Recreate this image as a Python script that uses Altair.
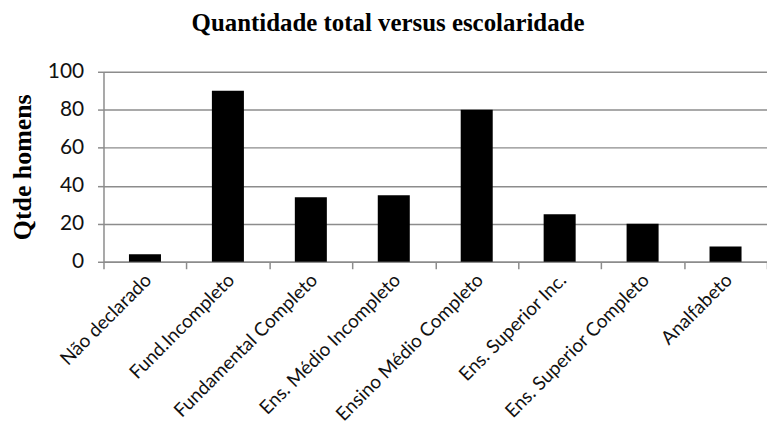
import altair as alt
import pandas as pd

title_text = ["Quantidade total versus escolaridade"]
categories = ["Não declarado", "Fund.Incompleto", "Fundamental Completo",
              "Ens. Médio Incompleto", "Ensino Médio Completo",
              "Ens. Superior Inc.", "Ens. Superior Completo", "Analfabeto"]
values = [4, 90, 34, 35, 80, 25, 20, 8]
y_ticks = [0, 20, 40, 60, 80, 100]

df = pd.DataFrame({"cat": categories, "val": values})
tdf = pd.DataFrame({"t": title_text})

GRAY = "#8c8c8c"

bars = alt.Chart(df).mark_bar(color="black", width=alt.RelativeBandSize(0.386)).encode(
    x=alt.X("cat:N", sort=categories, title=None,
            scale=alt.Scale(paddingInner=0, paddingOuter=0),
            axis=alt.Axis(labelAngle=-45, labelAlign="right", labelBaseline="middle",
                          labelFont="Lato", labelFontSize=19, labelLimit=0,
                          labelColor="#111", tickBand="extent", tickSize=7,
                          tickColor=GRAY, tickWidth=1.5, domainColor=GRAY,
                          domainWidth=1.5, grid=False, labelPadding=8,
                          labelOffset=3)),
    y=alt.Y("val:Q", title="Qtde homens", scale=alt.Scale(domain=[0, 100]),
            axis=alt.Axis(values=y_ticks, labelFont="Lato", labelFontSize=21,
                          labelColor="#111", labelPadding=14, tickSize=6,
                          tickColor=GRAY, tickWidth=1.5, domainColor=GRAY,
                          domainWidth=1.5, gridColor=GRAY, gridWidth=1.5,
                          titleFont="Liberation Serif", titleFontSize=26,
                          titleFontWeight="bold", titleColor="#000",
                          titlePadding=12)),
)

title = alt.Chart(tdf).mark_text(
    font="Liberation Serif", fontSize=25, fontWeight="bold", color="#000",
    align="center", baseline="alphabetic"
).encode(x=alt.value(286), y=alt.value(-41), text="t:N")

chart = alt.layer(bars, title).properties(
    width=667, height=191,
    autosize=alt.AutoSizeParams(type="none"),
    padding={"left": 96, "top": 63, "right": 0, "bottom": 168},
).configure_view(stroke=None)

chart.save("out.html", embed_options={"renderer": "svg", "actions": False})
